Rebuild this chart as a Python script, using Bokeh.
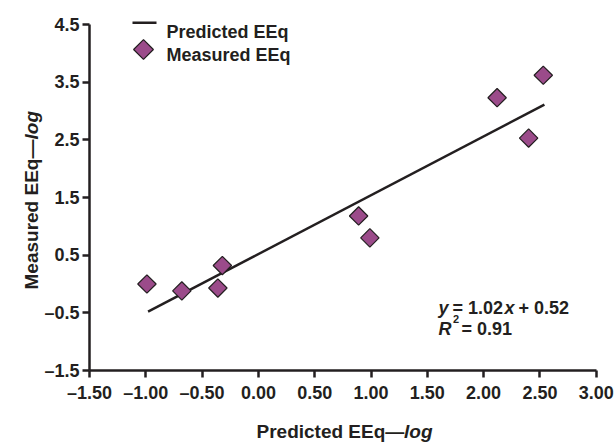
import numpy as np
from bokeh.plotting import figure
from bokeh.models import Range1d, FixedTicker, Label
from bokeh.embed import file_html
from bokeh.resources import INLINE

# ---- data ----
measured_x = [-0.99, -0.68, -0.36, -0.32, 0.89, 0.99, 2.12, 2.40, 2.53]
measured_y = [0.00, -0.12, -0.07, 0.32, 1.18, 0.80, 3.23, 2.53, 3.62]
predicted_x = [-0.98, 2.54]
predicted_y = [-0.48, 3.11]
x_ticks = [-1.5, -1.0, -0.5, 0.0, 0.5, 1.0, 1.5, 2.0, 2.5, 3.0]
x_tick_labels = ["–1.50", "–1.00", "–0.50", "0.00", "0.50", "1.00", "1.50", "2.00", "2.50", "3.00"]
y_ticks = [-1.5, -0.5, 0.5, 1.5, 2.5, 3.5, 4.5]
y_tick_labels = ["–1.5", "–0.5", "0.5", "1.5", "2.5", "3.5", "4.5"]
series_names = ["Predicted EEq", "Measured EEq"]
x_title = ["Predicted EEq—", "log"]
y_title = ["Measured EEq—", "log"]

FONT = "Liberation Sans"
INK = "#231f20"
PURPLE = "#9b4b8a"
FS = "18px"
TS = "19px"

# ---- layout (page pixels) ----
W, H = 615, 443
AX_X, AX_Y = -1.5, -1.5          # axis origin (data)
AX_XEND, AX_YEND = 3.0, 4.5      # axis extents (data)
PX_ORIGIN_X, PX_ORIGIN_Y = 89.0, 370.0
PX_PER_X = (595.7 - PX_ORIGIN_X) / (AX_XEND - AX_X)
PX_PER_Y = (PX_ORIGIN_Y - 24.0) / (AX_YEND - AX_Y)

x_start = AX_X - PX_ORIGIN_X / PX_PER_X
x_end = AX_X + (W - PX_ORIGIN_X) / PX_PER_X
y_start = AX_Y - (H - PX_ORIGIN_Y) / PX_PER_Y
y_end = AX_Y + PX_ORIGIN_Y / PX_PER_Y

def xd(px):
    return AX_X + (px - PX_ORIGIN_X) / PX_PER_X

def yd(py):
    return AX_Y + (PX_ORIGIN_Y - py) / PX_PER_Y

p = figure(width=W, height=H, output_backend="svg", toolbar_location=None,
           x_range=Range1d(x_start, x_end), y_range=Range1d(y_start, y_end),
           min_border_left=0, min_border_top=0, min_border_right=0, min_border_bottom=0)
p.outline_line_color = None
p.grid.visible = False
p.background_fill_color = "white"
p.border_fill_color = "white"

for ax in (p.xaxis[0], p.yaxis[0]):
    ax.axis_line_width = 2.5
    ax.axis_line_color = INK
    ax.major_tick_line_width = 2.5
    ax.major_tick_line_color = INK
    ax.major_tick_out = 7
    ax.major_tick_in = 0
    ax.minor_tick_line_color = None
    ax.major_label_text_font = FONT
    ax.major_label_text_font_style = "bold"
    ax.major_label_text_font_size = FS
    ax.major_label_text_color = INK

p.xaxis.fixed_location = AX_Y
p.xaxis.bounds = (AX_X, AX_XEND)
p.xaxis.ticker = FixedTicker(ticks=x_ticks)
p.xaxis.major_label_overrides = {t: l for t, l in zip(x_ticks, x_tick_labels)}
p.xaxis.major_label_standoff = 5
p.yaxis.fixed_location = AX_X
p.yaxis.bounds = (AX_Y, AX_YEND)
p.yaxis.ticker = FixedTicker(ticks=y_ticks)
p.yaxis.major_label_overrides = {t: l for t, l in zip(y_ticks, y_tick_labels)}
p.yaxis.major_label_standoff = 3

# data marks
p.line(predicted_x, predicted_y, line_width=2.5, line_color=INK)
p.scatter(measured_x, measured_y, marker="square", angle=np.pi / 4, size=13,
          fill_color=PURPLE, line_color=INK, line_width=1.2)

def lab(text, px, py, style="bold", size=FS, angle=0.0):
    p.add_layout(Label(x=xd(px), y=yd(py), text=text, text_font=FONT,
                       text_font_style=style, text_font_size=size, text_color=INK,
                       text_baseline="alphabetic", text_align="left", angle=angle))

# legend keys (drawn at legend positions)
KEY_X0, KEY_X1, KEY_Y1 = 132.0, 156.0, 22.3
KEY_DX, KEY_DY = 143.0, 49.0
p.line([xd(KEY_X0), xd(KEY_X1)], [yd(KEY_Y1), yd(KEY_Y1)], line_width=2.5, line_color=INK)
p.scatter([xd(KEY_DX)], [yd(KEY_DY)], marker="square", angle=np.pi / 4, size=14,
          fill_color=PURPLE, line_color=INK, line_width=1.2)
lab(series_names[0], 166, 31.5)
lab(series_names[1], 166, 54.5)

# axis titles
lab(x_title[0], 256, 431, size=TS)
lab(x_title[1], 256 + 147.5, 431, style="bold italic", size=TS)
lab(y_title[0], 31, 289, size=TS, angle=np.pi / 2)
lab(y_title[1], 31, 289 - 150, style="bold italic", size=TS, angle=np.pi / 2)

# equation
lab("y", 438, 307.5, style="bold italic")
lab("= 1.02", 452, 307.5)
lab("x", 504, 307.5, style="bold italic")
lab("+ 0.52", 518, 307.5)
lab("R", 438, 328.5, style="bold italic")
lab("2", 452.5, 318, size="11px")
lab("= 0.91", 461, 328.5)

open("out.html", "w").write(file_html(p, INLINE))
